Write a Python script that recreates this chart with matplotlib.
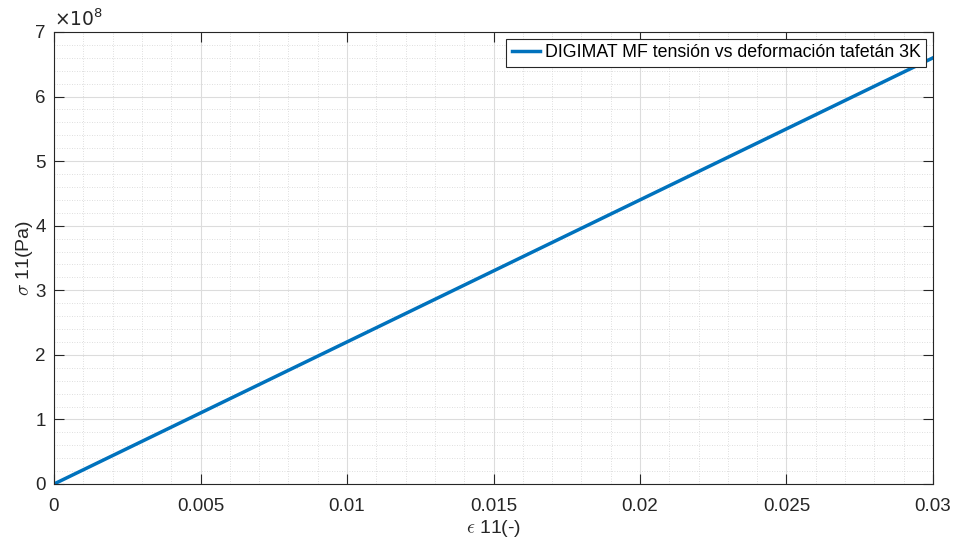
import numpy as np
import matplotlib.pyplot as plt
from matplotlib.ticker import MultipleLocator, FuncFormatter

plt.rcParams['font.family'] = ['Liberation Sans', 'DejaVu Sans']
plt.rcParams['mathtext.fontset'] = 'cm'

# datos
strain = [0.0, 0.005, 0.01, 0.015, 0.02, 0.025, 0.03]
stress = [0.0, 1.10e8, 2.20e8, 3.30e8, 4.40e8, 5.50e8, 6.60e8]
label = 'DIGIMAT MF tensión vs deformación tafetán 3K'

fig = plt.figure(figsize=(9.54, 5.42), dpi=100)
ax = fig.add_axes([54/954, 1-484/542, (933-54)/954, (484-32)/542])

ax.plot(strain, stress, color='#0072BD', lw=2.5, label=label)

ax.set_xlim(0, 0.03)
ax.set_ylim(0, 7e8)
ax.xaxis.set_major_locator(MultipleLocator(0.005))
ax.xaxis.set_minor_locator(MultipleLocator(0.001))
ax.yaxis.set_major_locator(MultipleLocator(1e8))
ax.yaxis.set_minor_locator(MultipleLocator(0.2e8))
ax.xaxis.set_major_formatter(FuncFormatter(lambda v, p: '0' if v == 0 else ('%g' % round(v, 4))))
ax.yaxis.set_major_formatter(FuncFormatter(lambda v, p: '%d' % round(v/1e8)))

ax.grid(True, which='major', color='#dcdcdc', lw=0.8)
ax.grid(True, which='minor', color='#d4d4d4', lw=0.6, ls=(0, (1, 2)))
ax.set_axisbelow(True)

ax.tick_params(which='both', direction='in', top=True, right=True,
               labelsize=13.5, colors='#262626')
ax.tick_params(which='major', length=7, width=0.8)
ax.tick_params(which='minor', length=0)
ax.tick_params(axis='x', pad=10)
ax.tick_params(axis='y', pad=6)
for s in ax.spines.values():
    s.set_color('#262626')
    s.set_linewidth(0.8)

ax.text(0.0, 1.005, r'$\times10^{8}$', transform=ax.transAxes, fontsize=13.5,
        color='#262626', ha='left', va='bottom', family='DejaVu Sans',
        math_fontfamily='dejavusans')

ax.set_xlabel(r'$\epsilon$ 11(-)', fontsize=14, color='#262626', labelpad=2)
ax.set_ylabel(r'$\sigma$ 11(Pa)', fontsize=14, color='#262626', labelpad=0)

leg = ax.legend(loc='upper right', fontsize=12.8, frameon=True, fancybox=False,
                handlelength=1.6, handletextpad=0.25, borderpad=0.3,
                borderaxespad=0.4)
leg.get_frame().set_edgecolor('#262626')
leg.get_frame().set_linewidth(0.8)
leg.get_frame().set_alpha(1)

fig.savefig('out.png', dpi=100)
